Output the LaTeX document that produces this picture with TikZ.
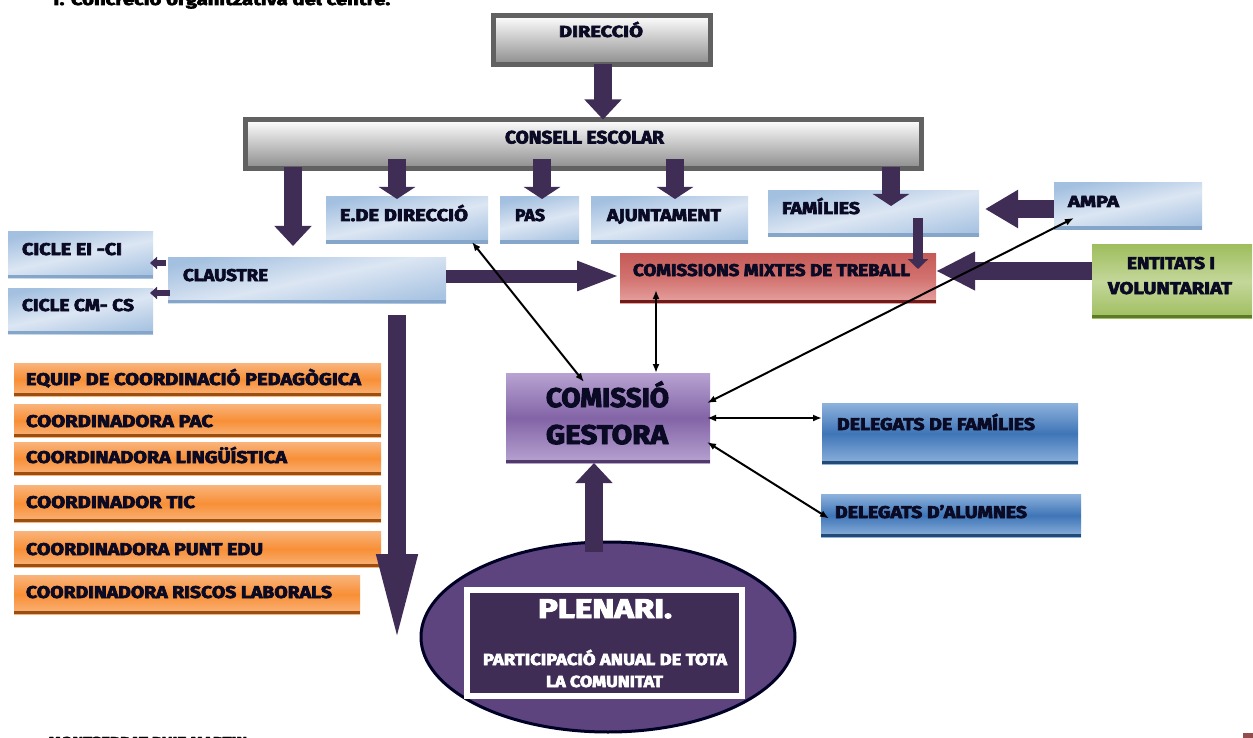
\documentclass[tikz,border=0pt]{standalone}
\usepackage{fontspec}
\usepackage{graphicx}
\usetikzlibrary{arrows.meta,shapes.geometric}
\setmainfont{Fira Sans}[UprightFont=*-Bold,FakeBold=3.5]
\definecolor{arrowc}{HTML}{3F2D56}
\definecolor{ink}{HTML}{0A0A24}
\definecolor{blueA}{HTML}{A3C0E0}\definecolor{blueB}{HTML}{DCE6F3}\definecolor{blueC}{HTML}{A9C4E2}\definecolor{blueD}{HTML}{85A6C8}
\definecolor{orangeA}{HTML}{F9B47C}\definecolor{orangeB}{HTML}{F88F36}\definecolor{orangeD}{HTML}{9A4F10}
\definecolor{redA}{HTML}{C45A57}\definecolor{redB}{HTML}{D2726F}\definecolor{redC}{HTML}{E6A3A1}\definecolor{redD}{HTML}{6E1C1A}
\definecolor{greenA}{HTML}{9FBE5E}\definecolor{greenB}{HTML}{C3D79A}\definecolor{greenD}{HTML}{5A7A2A}
\definecolor{purpleA}{HTML}{B7A3D2}\definecolor{purpleB}{HTML}{8364A6}\definecolor{purpleD}{HTML}{4F3A68}
\definecolor{delegA}{HTML}{8DB2DC}\definecolor{delegB}{HTML}{3F75B7}\definecolor{delegD}{HTML}{234A74}
\definecolor{ellipsec}{HTML}{5E447F}
\tikzset{
  x=1pt,y=-1pt,
  boxbase/.style={inner sep=0pt,outer sep=0pt,text=ink},
  strip/.style={path picture={\fill[#1] ([yshift=3.5pt]path picture bounding box.south west) rectangle (path picture bounding box.south east);}},
  graybox/.style={boxbase,draw=black!62,line width=5pt,top color=white,bottom color=black!45},
  bluebox/.style={boxbase,top color=blueA,bottom color=blueC,middle color=blueB,shading angle=12,strip=blueD},
  orangebox/.style={boxbase,top color=orangeA,bottom color=orangeA,middle color=orangeB,strip=orangeD},
  redbox/.style={boxbase,top color=redA,bottom color=redC,middle color=redB,strip=redD},
  greenbox/.style={boxbase,top color=greenA,bottom color=greenA,middle color=greenB,strip=greenD},
  purplebox/.style={boxbase,top color=purpleA,bottom color=purpleA,middle color=purpleB,strip=purpleD},
  delegbox/.style={boxbase,top color=delegA,bottom color=delegA,middle color=delegB,strip=delegD},
  plenaribox/.style={boxbase,fill=arrowc,draw=white,line width=6pt,text=white},
  bigarrow/.style={draw=arrowc,line width=18pt,-{Triangle[length=#1,width=36pt,fill=arrowc]}},
  bigarrow/.default=22pt,
  smallarrow/.style={draw=arrowc,line width=6pt,-{Triangle[length=7pt,width=12pt,fill=arrowc]}},
  pointer/.style={draw=black,line width=2pt,{Latex[length=9pt,width=7pt]}-{Latex[length=9pt,width=7pt]}},
}
% fitted text: width #1, font size #2
\newcommand\fitt[3]{{\fontsize{#2pt}{#2pt}\selectfont\resizebox{#1pt}{\height}{#3}}}
% one line of text: left x, baseline y, size, width, text
\newcommand\tl[5]{\pgfmathsetmacro\dxv{#1-\cxv}\pgfmathsetmacro\dyv{\cyv-#2}\rlap{\hspace*{\dxv pt}\raisebox{\dyv pt}[0pt][0pt]{\fitt{#4}{#3}{#5}}}}
% box: style, name, x1,y1,x2,y2, lines
\newcommand\bx[7]{\pgfmathsetmacro\cxv{(#3+#5)/2}\pgfmathsetmacro\cyv{(#4+#6)/2}\pgfmathsetmacro\wv{#5-#3}\pgfmathsetmacro\hv{#6-#4}%
  \node[#1,minimum width=\wv pt,minimum height=\hv pt] (#2) at (\cxv,\cyv) {#7};}
\begin{document}
\begin{tikzpicture}
\useasboundingbox (0,0) rectangle (1253,738);
\fill[white] (0,0) rectangle (1253,738);
% page header and footer, cut by the page edge
\node[inner sep=0pt,anchor=base west,text=black] (titol) at (50,5) {\fitt{340}{16}{1. Concreció organitzativa del centre:}};
\node[inner sep=0pt,anchor=base west,text=black] (autora) at (48,746) {\fitt{199}{13}{MONTSERRAT RUIZ MARTIN}};
\fill[red!40!black!70!white] (1243,733) rectangle (1253,738);
% boxes
\bx{graybox}{direccio}{493}{15.5}{710}{64.5}{\tl{559}{37}{16}{84}{DIRECCIÓ}}
\bx{graybox}{consell}{245.5}{119.5}{921.5}{168.5}{\tl{505}{143.5}{18}{159}{CONSELL ESCOLAR}}
\bx{bluebox}{edir}{326}{197}{488}{244}{\tl{340}{221}{17}{128}{E.DE DIRECCIÓ}}
\bx{bluebox}{pas}{500}{197}{579}{244}{\tl{515}{221}{17}{30}{PAS}}
\bx{bluebox}{ajunt}{591}{197}{748}{244}{\tl{607}{221}{17}{114}{AJUNTAMENT}}
\bx{bluebox}{families}{768}{191}{979}{237}{\tl{782}{214}{17}{78}{FAMÍLIES}}
\bx{bluebox}{ampa}{1054}{183}{1202}{230}{\tl{1068}{207}{16}{51}{AMPA}}
\bx{bluebox}{claustre}{168}{257}{446}{303}{\tl{183}{281}{17}{85}{CLAUSTRE}}
\bx{bluebox}{cicleA}{8}{232}{153}{278}{\tl{22}{255}{17}{100}{CICLE EI -CI}}
\bx{bluebox}{cicleB}{8}{288}{153}{334}{\tl{22}{311}{17}{112}{CICLE CM- CS}}
\bx{redbox}{comissions}{620}{253}{936}{303}{\tl{633}{276}{17}{277}{COMISSIONS MIXTES DE TREBALL}}
\bx{greenbox}{entitats}{1092}{245}{1252}{318}{\tl{1127}{269}{17}{88}{ENTITATS I}\tl{1108}{294}{17}{124}{VOLUNTARIAT}}
\bx{orangebox}{eqA}{14}{363}{381}{396}{\tl{26}{385}{17}{335}{EQUIP DE COORDINACIÓ PEDAGÒGICA}}
\bx{orangebox}{eqB}{14}{404}{381}{437}{\tl{26}{427}{17}{187}{COORDINADORA PAC}}
\bx{orangebox}{eqC}{14}{442}{381}{475}{\tl{26}{463}{17}{261}{COORDINADORA LINGÜÍSTICA}}
\bx{orangebox}{eqD}{14}{485}{381}{522}{\tl{26}{508}{17}{169}{COORDINADOR TIC}}
\bx{orangebox}{eqE}{14}{531}{381}{567}{\tl{26}{555}{17}{237}{COORDINADORA PUNT EDU}}
\bx{orangebox}{eqF}{14}{575}{360}{614}{\tl{26}{598}{17}{306}{COORDINADORA RISCOS LABORALS}}
\bx{purplebox}{gestora}{506}{373}{710}{463}{\tl{546}{407}{27}{123}{COMISSIÓ}\tl{546}{444}{27}{122}{GESTORA}}
\bx{delegbox}{delfam}{822}{403}{1078}{464}{\tl{837}{430}{17}{198}{DELEGATS DE FAMÍLIES}}
\bx{delegbox}{delalu}{821}{494}{1081}{537}{\tl{835}{518}{17}{192}{DELEGATS D'ALUMNES}}
% plenari
\node[ellipse,draw=black!85!blue,line width=3pt,fill=ellipsec,inner sep=0pt,outer sep=0pt,minimum width=374pt,minimum height=190pt] (plenaria) at (608,637) {};
\bx{plenaribox}{plenari}{467}{590}{742}{696}{\tl{538}{618}{27}{134}{PLENARI.}\tl{483}{665}{16}{244}{PARTICIPACIÓ ANUAL DE TOTA}\tl{546}{687}{16}{117}{LA COMUNITAT}}
% block arrows
\draw[bigarrow=20pt] ([shift={(1.5,0)}]direccio.south) -- ([shift={(19.5,0)}]consell.north);
\draw[bigarrow=20pt] ([shift={(-290.5,-1)}]consell.south) -- ([shift={(-14,-11)}]claustre.north);
\draw[bigarrow=12pt] ([shift={(-186.5,-9)}]consell.south) -- ([shift={(-10,2)}]edir.north);
\draw[bigarrow=12pt] ([shift={(-41.5,-9)}]consell.south) -- ([shift={(2.5,2)}]pas.north);
\draw[bigarrow=12pt] ([shift={(91.5,-9)}]consell.south) -- ([shift={(5.5,2)}]ajunt.north);
\draw[bigarrow=12pt] ([shift={(307.5,-1)}]consell.south) -- ([shift={(17.5,15)}]families.north);
\draw[bigarrow=33pt] ([shift={(0,2.5)}]ampa.west) -- ([shift={(6,-5)}]families.east);
\draw[draw=arrowc,line width=10pt,-{Triangle[length=10pt,width=20pt,fill=arrowc]}] ([shift={(44.5,-19)}]families.south) -- ([shift={(140,16)}]comissions.north);
\draw[draw=arrowc,line width=13pt,-{Triangle[length=43pt,width=27pt,fill=arrowc]}] ([shift={(0,-4)}]claustre.east) -- ([shift={(0,-2)}]comissions.west);
\draw[bigarrow=39pt] ([shift={(0,-10.5)}]entitats.west) -- ([shift={(0,-7)}]comissions.east);
\draw[smallarrow] ([shift={(-2,-17)}]claustre.west) -- ([shift={(-3,8)}]cicleA.east);
\draw[smallarrow] ([shift={(2,13)}]claustre.west) -- ([shift={(-3,-18)}]cicleB.east);
\coordinate (fletxafi) at (397,647);
\draw[bigarrow=93pt] ([shift={(90,12)}]claustre.south) -- (fletxafi);
\draw[bigarrow=20pt] ([shift={(-14,10)}]plenaria.north) -- ([shift={(-14,0)}]gestora.south);
% pointers
\draw[pointer] ([shift={(-16,-2)}]edir.south east) -- ([shift={(78,9)}]gestora.north west);
\draw[pointer] ([shift={(-122,-13)}]comissions.south) -- ([shift={(48,0)}]gestora.north);
\draw[pointer] ([shift={(20,-12)}]ampa.south west) -- ([shift={(-3,30)}]gestora.north east);
\draw[pointer] ([shift={(-3,0)}]gestora.east) -- ([shift={(0,-15.5)}]delfam.west);
\draw[pointer] ([shift={(-3,-21)}]gestora.south east) -- ([shift={(8,3)}]delalu.west);
\end{tikzpicture}
\end{document}
